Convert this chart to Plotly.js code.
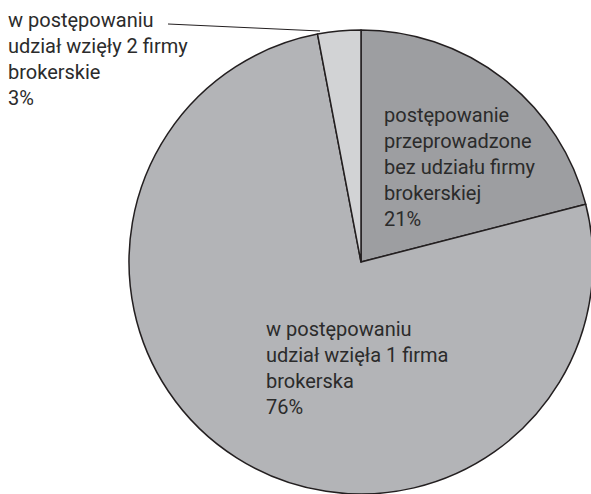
<!DOCTYPE html>
<html>
<head>
<meta charset="utf-8">
<script src="https://cdn.plot.ly/plotly-3.0.1.min.js"></script>
<style>
html,body{margin:0;padding:0;overflow:hidden;background:#fff;}
#chart{width:600px;height:494px;}
</style>
</head>
<body>
<div id="chart"></div>
<script>
const labels = [
  "postępowanie<br>przeprowadzone<br>bez udziału firmy<br>brokerskiej",
  "w postępowaniu<br>udział wzięła 1 firma<br>brokerska",
  "w postępowaniu<br>udział wzięły 2 firmy<br>brokerskie"
];
const values = [21, 76, 3];
const colors = ["#9d9ea1", "#b3b4b7", "#d2d3d5"];

const W = 600, H = 494;
const px = x => x / W;
const py = y => 1 - y / H;

// label block placement (left x, vertical centre y) in pixels
const labelPos = [
  {x: 382, y: 167},
  {x: 264, y: 368},
  {x: 6, y: 59}
];

const fontFam = "Roboto, 'Noto Sans', sans-serif";

const annotations = labels.map((lab, i) => ({
  xref: "paper", yref: "paper",
  x: px(labelPos[i].x), y: py(labelPos[i].y),
  xanchor: "left", yanchor: "middle", align: "left",
  showarrow: false,
  text: lab + "<br>" + values[i] + "%",
  font: {family: fontFam, size: 20, color: "#2b2b2b"}
}));

const data = [{
  type: "pie",
  labels: labels,
  values: values,
  sort: false,
  direction: "clockwise",
  rotation: 0,
  textinfo: "none",
  hoverinfo: "none",
  marker: {colors: colors, line: {color: "#231f20", width: 1.5}},
  domain: {x: [px(129), px(593)], y: [py(494), py(30)]},
  showlegend: false
}];

const layout = {
  width: W, height: H,
  margin: {l: 0, r: 0, t: 0, b: 0},
  paper_bgcolor: "#ffffff",
  showlegend: false,
  annotations: annotations,
  shapes: [{
    type: "line", xref: "paper", yref: "paper",
    x0: px(168), y0: py(24), x1: px(320), y1: py(31),
    line: {color: "#231f20", width: 1}
  }]
};

Plotly.newPlot("chart", data, layout, {staticPlot: true});
</script>
</body>
</html>
